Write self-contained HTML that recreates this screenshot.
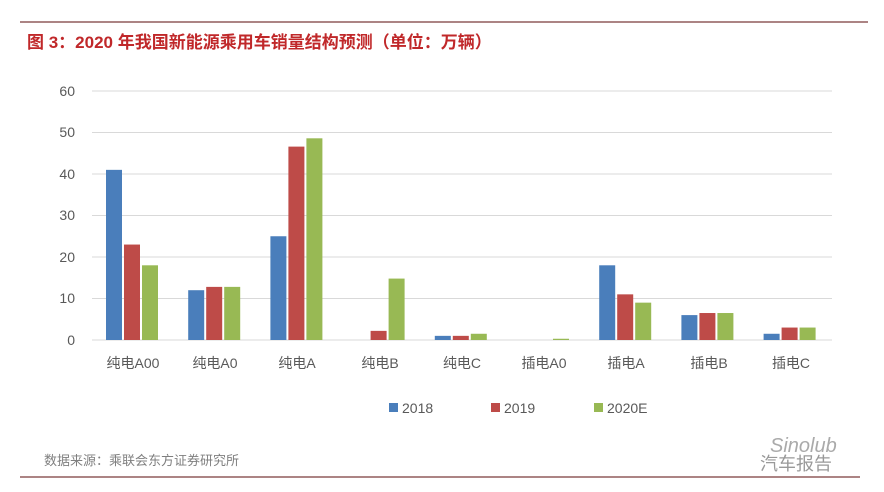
<!DOCTYPE html>
<html><head><meta charset="utf-8"><style>
body{margin:0;background:#fff;}
svg{display:block;font-family:"Liberation Sans","Noto Sans CJK SC",sans-serif;}
</style></head><body>
<svg width="884" height="492" viewBox="0 0 884 492">
<line x1="20" y1="22" x2="868" y2="22" stroke="#7a3b3b" stroke-width="1.2"/>
<text x="27" y="48" font-size="17" font-weight="bold" fill="#c0282a">图 3：2020 年我国新能源乘用车销量结构预测（单位：万辆）</text>
<g stroke="#d9d9d9" stroke-width="1">
<line x1="92" y1="91" x2="832" y2="91"/><line x1="92" y1="132.5" x2="832" y2="132.5"/>
<line x1="92" y1="174" x2="832" y2="174"/><line x1="92" y1="215.5" x2="832" y2="215.5"/>
<line x1="92" y1="257" x2="832" y2="257"/><line x1="92" y1="298.5" x2="832" y2="298.5"/>
<line x1="92" y1="340" x2="832" y2="340"/>
</g>
<g font-size="14" fill="#595959" text-anchor="end">
<text x="75" y="96">60</text><text x="75" y="137">50</text><text x="75" y="179">40</text>
<text x="75" y="220">30</text><text x="75" y="262">20</text><text x="75" y="303">10</text><text x="75" y="345">0</text>
</g>
<g fill="#4a7ebb">
<rect x="106" y="169.85" width="16" height="170.15"/>
<rect x="188.2" y="290.2" width="16" height="49.8"/>
<rect x="270.4" y="236.25" width="16" height="103.75"/>
<rect x="434.8" y="335.85" width="16" height="4.15"/>
<rect x="599.2" y="265.3" width="16" height="74.7"/>
<rect x="681.4" y="315.1" width="16" height="24.9"/>
<rect x="763.6" y="333.77" width="16" height="6.23"/>
</g>
<g fill="#be4b48">
<rect x="124" y="244.55" width="16" height="95.45"/>
<rect x="206.2" y="286.88" width="16" height="53.12"/>
<rect x="288.4" y="146.61" width="16" height="193.39"/>
<rect x="370.6" y="330.87" width="16" height="9.13"/>
<rect x="452.8" y="335.85" width="16" height="4.15"/>
<rect x="617.2" y="294.35" width="16" height="45.65"/>
<rect x="699.4" y="313.02" width="16" height="26.98"/>
<rect x="781.6" y="327.55" width="16" height="12.45"/>
</g>
<g fill="#98b954">
<rect x="142" y="265.3" width="16" height="74.7"/>
<rect x="224.2" y="286.88" width="16" height="53.12"/>
<rect x="306.4" y="138.31" width="16" height="201.69"/>
<rect x="388.6" y="278.58" width="16" height="61.42"/>
<rect x="470.8" y="333.77" width="16" height="6.23"/>
<rect x="553" y="338.75" width="16" height="1.25"/>
<rect x="635.2" y="302.65" width="16" height="37.35"/>
<rect x="717.4" y="313.02" width="16" height="26.98"/>
<rect x="799.6" y="327.55" width="16" height="12.45"/>
</g>
<g font-size="14" fill="#595959" text-anchor="middle">
<text x="133" y="368">纯电A00</text><text x="215" y="368">纯电A0</text><text x="297" y="368">纯电A</text>
<text x="380" y="368">纯电B</text><text x="462" y="368">纯电C</text><text x="544" y="368">插电A0</text>
<text x="626" y="368">插电A</text><text x="709" y="368">插电B</text><text x="791" y="368">插电C</text>
</g>
<g font-size="14" fill="#595959">
<rect x="389" y="403" width="9" height="9" fill="#4a7ebb"/><text x="402" y="413">2018</text>
<rect x="491" y="403" width="9" height="9" fill="#be4b48"/><text x="504" y="413">2019</text>
<rect x="594" y="403" width="9" height="9" fill="#98b954"/><text x="607" y="413">2020E</text>
</g>
<text x="44" y="465" font-size="13" fill="#7f7f7f">数据来源：乘联会东方证券研究所</text>
<text x="770" y="452" font-size="20" fill="#aaa" font-style="italic">Sinolub</text>
<text x="760" y="470" font-size="18" fill="#999">汽车报告</text>
<line x1="20" y1="477" x2="860" y2="477" stroke="#7a3b3b" stroke-width="1.2"/>
</svg>
</body></html>
